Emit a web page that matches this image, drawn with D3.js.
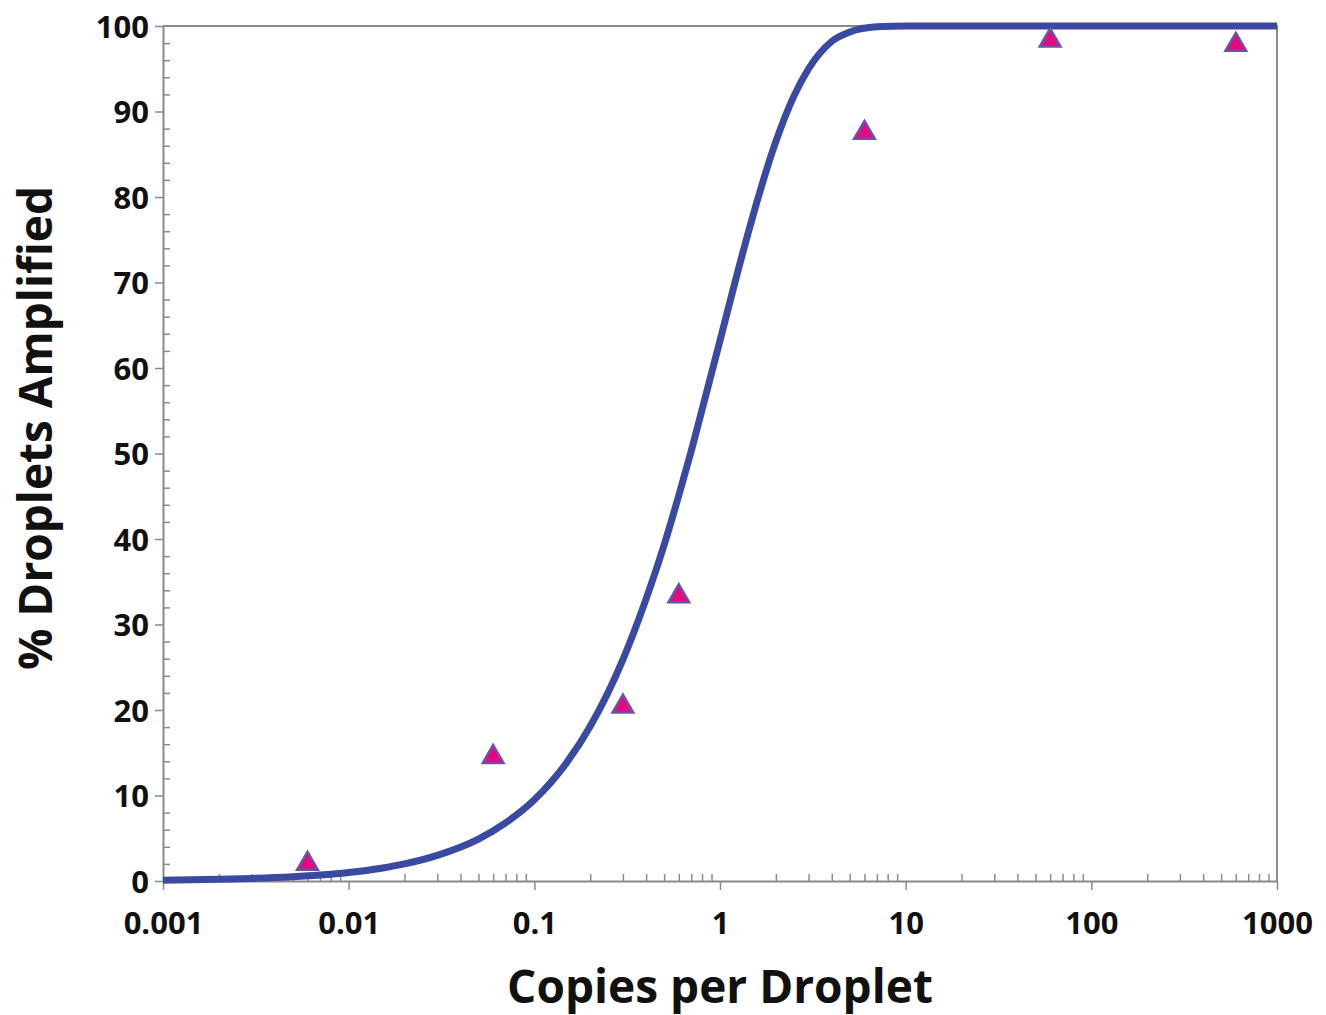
<!DOCTYPE html>
<html lang="en">
<head>
	<meta charset="UTF-8">
	<title>Droplets Amplified</title>
	<script src="https://d3js.org/d3.v7.min.js"></script>
	<style>
		body { margin: 0; background: #fff; }
		text { font-family: "Open Sans", sans-serif; font-weight: bold; fill: #111; }
	</style>
</head>
<body>
	<svg id="svg"></svg>
	<script>
		// fitted curve
		var curveX = [0.001, 0.002, 0.003, 0.005, 0.007, 0.01, 0.015, 0.02, 0.03, 0.05, 0.07, 0.1, 0.15, 0.2, 0.3, 0.4, 0.5, 0.6, 0.7, 0.8, 1, 1.2, 1.5, 2, 2.5, 3, 4, 5, 7, 10, 20, 100, 1000];
		var curveY = [0.1, 0.2, 0.3, 0.5, 0.7, 1.0, 1.5, 2.0, 3.0, 4.9, 6.8, 9.5, 13.9, 18.1, 25.9, 33.0, 39.3, 45.1, 50.3, 55.1, 63.2, 69.9, 77.7, 86.5, 91.8, 95.0, 98.2, 99.3, 99.9, 100, 100, 100, 100];
		// measured points
		var pointX = [0.006, 0.06, 0.3, 0.6, 6, 60, 600];
		var pointY = [2.0, 14.5, 20.4, 33.3, 87.5, 98.3, 97.8];
		var xTicks = [0.001, 0.01, 0.1, 1, 10, 100, 1000];
		var xTickLabels = ["0.001", "0.01", "0.1", "1", "10", "100", "1000"];
		var yTicks = [0, 10, 20, 30, 40, 50, 60, 70, 80, 90, 100];

		(function() {
			var w = 1326, h = 1015,
				mLeft = 163, mRight = 1277, mTop = 26, mBottom = 881;
			var svg = d3.select("#svg").attr("width", w).attr("height", h);

			var x = d3.scaleLog().domain([0.001, 1000]).range([mLeft, mRight]);
			var y = d3.scaleLinear().domain([0, 100]).range([mBottom, mTop]);

			var grey = "#8a8a8a";

			// frame top / right
			svg.append("path")
				.attr("d", "M" + mLeft + "," + mTop + "H" + mRight + "V" + mBottom)
				.attr("fill", "none").attr("stroke", grey).attr("stroke-width", 2);

			// minor ticks (inside)
			var yMinor = d3.range(0, 101, 2).filter(function(d) { return d % 10 != 0; });
			svg.append("g").attr("transform", "translate(" + mLeft + ",0)")
				.call(d3.axisRight(y).tickValues(yMinor).tickSize(7).tickFormat(""))
				.call(function(g) { g.select(".domain").remove(); g.selectAll("line").attr("stroke", grey).attr("stroke-width", 1.5); });

			var xMinor = [];
			for (var e = -3; e < 3; e++) {
				for (var k = 2; k < 10; k++) xMinor.push(k * Math.pow(10, e));
			}
			svg.append("g").attr("transform", "translate(0," + mBottom + ")")
				.call(d3.axisTop(x).tickValues(xMinor).tickSize(7).tickFormat(""))
				.call(function(g) { g.select(".domain").remove(); g.selectAll("line").attr("stroke", grey).attr("stroke-width", 1.5); });

			// main axes
			var yAxis = svg.append("g").attr("transform", "translate(" + mLeft + ",0)")
				.call(d3.axisLeft(y).tickValues(yTicks).tickSize(8).tickSizeOuter(0).tickPadding(6));
			var xAxis = svg.append("g").attr("transform", "translate(0," + mBottom + ")")
				.call(d3.axisBottom(x).tickValues(xTicks).tickSize(9).tickSizeOuter(0).tickPadding(22)
					.tickFormat(function(d, i) { return xTickLabels[i]; }));
			[xAxis, yAxis].forEach(function(g) {
				g.select(".domain").attr("stroke", grey).attr("stroke-width", 2);
				g.selectAll("line").attr("stroke", grey).attr("stroke-width", 1.5);
				g.selectAll("text").style("font-size", "31px").attr("fill", "#111");
			});
			yAxis.selectAll("text").attr("dy", "0.36em");

			// curve
			var line = d3.line()
				.x(function(d) { return x(d[0]); })
				.y(function(d) { return y(d[1]); })
				.curve(d3.curveMonotoneX);
			svg.append("path")
				.datum(d3.zip(curveX, curveY))
				.attr("d", line)
				.attr("fill", "none")
				.attr("stroke", "#3a4aa2")
				.attr("stroke-width", 7);

			// triangle markers
			var tri = d3.symbol().type(d3.symbolTriangle).size(185);
			svg.selectAll(".pt")
				.data(d3.zip(pointX, pointY))
				.enter().append("path")
				.attr("class", "pt")
				.attr("d", tri)
				.attr("transform", function(d) { return "translate(" + x(d[0]) + "," + y(d[1]) + ")"; })
				.attr("fill", "#e8077f")
				.attr("stroke", "#6a52a6")
				.attr("stroke-width", 2.5);

			// titles
			svg.append("text")
				.attr("x", 720)
				.attr("y", 1003)
				.attr("text-anchor", "middle")
				.style("font-size", "46px")
				.text("Copies per Droplet");
			svg.append("text")
				.attr("transform", "translate(52,428) rotate(-90)")
				.attr("text-anchor", "middle")
				.style("font-size", "46px")
				.text("% Droplets Amplified");
		})();
	</script>
</body>
</html>
